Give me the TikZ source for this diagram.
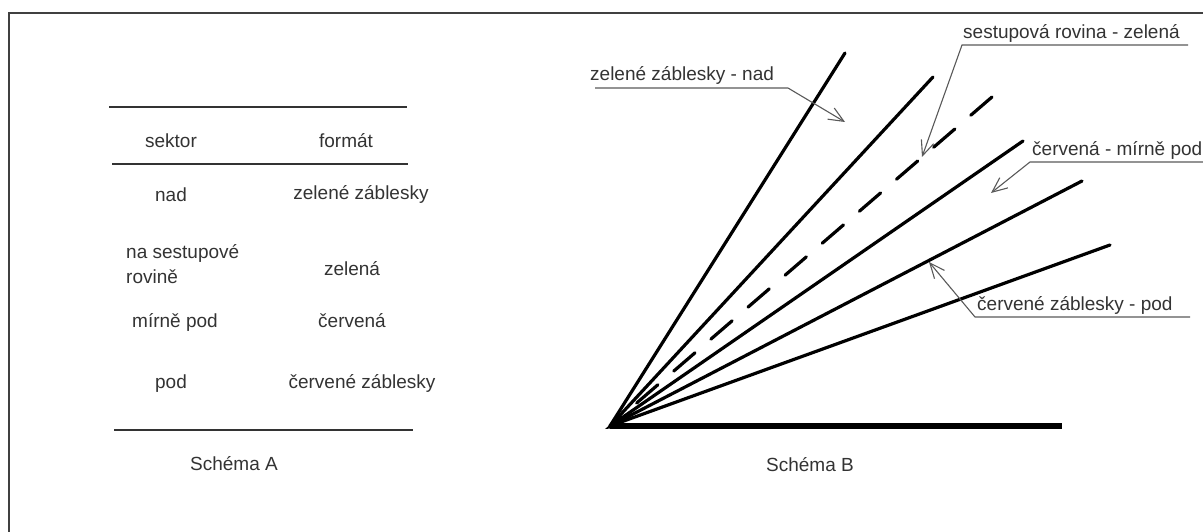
\documentclass[tikz,border=0pt]{standalone}
\usepackage{fontspec}
\setmainfont{Liberation Sans}
\usetikzlibrary{arrows.meta}
\definecolor{txt}{HTML}{333333}
\begin{document}
\begin{tikzpicture}[x=1pt,y=-1pt,
  txtnode/.style={inner sep=0pt, text=txt, font=\fontsize{19}{25}\selectfont},
  rule/.style={line width=1.6pt, draw=txt},
  ray/.style={line width=3.2pt, line cap=round},
  callout/.style={line width=1.1pt, draw=black!65, -{Straight Barb[length=15pt,width=13pt]}}]
\useasboundingbox (0,0) rectangle (1203,532);
\clip (0,0) rectangle (1203,532);
% frame
\draw[line width=2pt, draw=black!75] (9,532) -- (9,13) -- (1203,13);

% ---------- Schema A ----------
\draw[rule] (109,107) -- (407,107);
\draw[rule] (112,164) -- (408,164);
\draw[rule] (114,430) -- (413,430);
\node[txtnode, anchor=base] (h1) at (171,148) {sektor};
\node[txtnode, anchor=base] (h2) at (346,148) {formát};
\node[txtnode, anchor=base] (a1) at (171,201) {nad};
\node[txtnode, anchor=base] (b1) at (361,200) {zelené záblesky};
\node[txtnode, anchor=north west, align=left] (a2) at (126,244) {na sestupové\\rovině};
\node[txtnode, anchor=base] (b2) at (352,275) {zelená};
\node[txtnode, anchor=base] (a3) at (175,327) {mírně pod};
\node[txtnode, anchor=base] (b3) at (352,327) {červená};
\node[txtnode, anchor=base] (a4) at (171,388) {pod};
\node[txtnode, anchor=base] (b4) at (362,388) {červené záblesky};
\node[txtnode, anchor=base] (capA) at (234,470) {Schéma A};

% ---------- Schema B ----------
\coordinate (O) at (610,426);
\coordinate (r1) at (845,53);
\coordinate (r2) at (933,77);
\coordinate (rd) at (992,97);
\coordinate (r3) at (1023,141);
\coordinate (r4) at (1082,181);
\coordinate (r5) at (1110,245);
\coordinate (base) at (1062,426);
\draw[ray] (O) -- (r1);
\draw[ray] (O) -- (r2);
\draw[ray, dash pattern=on 28pt off 21pt] (rd) -- (O);
\draw[ray] (O) -- (r3);
\draw[ray] (O) -- (r4);
\draw[ray] (O) -- (r5);
\draw[line width=5.5pt] (O) -- (base);
\fill (O) ++(-5,3) -- ++(14,-12) -- ++(8,10) -- cycle;
\node[txtnode, anchor=base] (capB) at (810,471) {Schéma B};

% labels with callouts
\node[txtnode, anchor=base west] (l1) at (590,81) {zelené záblesky - nad};
\coordinate (l1a) at (595,88);
\coordinate (l1b) at (788,88);
\coordinate (l1t) at (845,122);
\draw[callout] (l1a) -- (l1b) -- (l1t);

\node[txtnode, anchor=base west] (l2) at (963,39) {sestupová rovina - zelená};
\coordinate (l2a) at (1188,45);
\coordinate (l2b) at (962,45);
\coordinate (l2t) at (922,157);
\draw[callout] (l2a) -- (l2b) -- (l2t);

\node[txtnode, anchor=base west] (l3) at (1032,156) {červená - mírně pod};
\coordinate (l3a) at (1210,162);
\coordinate (l3b) at (1030,162);
\coordinate (l3t) at (991,193);
\draw[callout] (l3a) -- (l3b) -- (l3t);

\node[txtnode, anchor=base west] (l4) at (977,310) {červené záblesky - pod};
\coordinate (l4a) at (1190,317);
\coordinate (l4b) at (975,317);
\coordinate (l4t) at (929,262);
\draw[callout] (l4a) -- (l4b) -- (l4t);
\end{tikzpicture}
\end{document}
